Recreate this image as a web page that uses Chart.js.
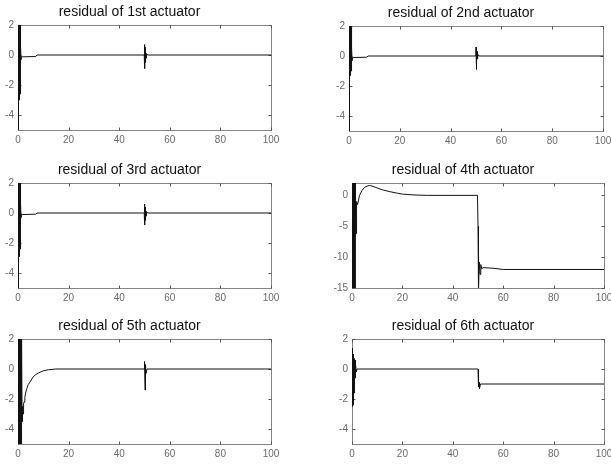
<!DOCTYPE html>
<html><head><meta charset="utf-8">
<script src="https://cdn.jsdelivr.net/npm/chart.js@4"></script>
<style>
html,body{margin:0;padding:0;background:#fff;width:611px;height:464px;overflow:hidden;position:relative}
.c{position:absolute}
</style></head><body>
<script>
// ---- data ----
const titles = ["residual of 1st actuator","residual of 2nd actuator","residual of 3rd actuator","residual of 4th actuator","residual of 5th actuator","residual of 6th actuator"];
const xTicks = [0,20,40,60,80,100];
const yTicksSmall = [-4,-2,0,2];
const yTicksLarge = [-15,-10,-5,0];

const t1 = [0,0.04,0.08,0.12,0.16,0.2,0.24,0.28,0.32,0.36,0.4,0.44,0.48,0.52,0.56,0.6,0.64,0.68,0.72,0.76,0.8,0.84,0.88,0.92,0.96,1.0,1.04,1.08,1.12,1.16,1.2,1.3,1.6,2,7,7.5,49.9,50,50.1,50.2,50.3,50.4,50.6,50.8,51.2,100];
const r1 = [0,3,-6,3,-6,3,-5.5,3,-4,3,-3,2.8,-2.8,2.6,-2.8,2.5,-2.7,2.4,-2.7,2.3,-2.6,2.2,-2.4,2.1,-2.0,1.8,-1.5,1.2,-1.0,0.6,-0.3,-0.1,-0.12,-0.12,-0.1,0,0,0.7,-0.9,0.5,-0.5,0.3,-0.2,0.1,0,0];

const t2 = [0,0.04,0.08,0.12,0.16,0.2,0.24,0.28,0.32,0.36,0.4,0.44,0.48,0.52,0.56,0.6,0.64,0.68,0.72,0.76,0.8,0.84,0.88,0.92,0.96,1.0,1.04,1.08,1.12,1.16,1.2,1.3,1.6,2,7,7.5,49.9,50,50.1,50.2,50.3,50.4,50.6,50.8,51.2,100];
const r2 = [0,3,-6,3,-5,3,-3,3,-2.7,3,-1.3,2.8,-1.2,2.6,-1.2,2.5,-1.1,2.4,-1.1,2.3,-1.0,2.0,-0.9,1.8,-0.8,1.5,-0.7,1.0,-0.5,0.6,-0.3,-0.1,-0.1,-0.1,-0.08,0,0,0.6,-0.9,0.4,-0.5,0.3,-0.2,0.1,0,0];

const t3 = [0,0.04,0.08,0.12,0.16,0.2,0.24,0.28,0.32,0.36,0.4,0.44,0.48,0.52,0.56,0.6,0.64,0.68,0.72,0.76,0.8,0.84,0.88,0.92,0.96,1.0,1.04,1.08,1.12,1.16,1.2,1.3,1.6,2,7,7.5,49.9,50,50.1,50.2,50.3,50.4,50.6,50.8,51.2,100];
const r3 = [0,3,-6,3,-6,3,-5,3,-4,3,-2.9,2.8,-2.8,2.6,-2.7,2.5,-2.6,2.4,-2.6,2.3,-2.4,2.1,-2.2,2.0,-1.8,1.6,-1.4,1.1,-0.9,0.6,-0.3,-0.1,-0.1,-0.1,-0.08,0,0,0.6,-0.8,0.4,-0.5,0.3,-0.2,0.1,0,0];

const t4 = [0,0.1,0.2,0.3,0.4,0.5,0.6,0.7,0.8,0.9,1.0,1.1,1.2,1.3,1.4,1.6,1.8,2.2,3,4,5,6,7,8,10,12,15,18,20,25,30,49.8,50,50.2,50.5,50.8,51.1,51.5,52,56,60,100];
const r4 = [0,3,-16,3,-16,3,-16,3,-16,3,-16,3,-16,2,-1,-6.2,-1,-1.5,0,0.8,1.3,1.5,1.6,1.5,1.2,0.9,0.6,0.35,0.2,0.05,0,0,-5,-15.5,-10.8,-12.8,-11.2,-11.9,-11.7,-11.8,-12,-12];

const t5 = [0,0.1,0.2,0.3,0.4,0.5,0.6,0.7,0.8,0.9,1.0,1.1,1.2,1.3,1.4,1.5,1.6,1.7,1.8,1.9,2.0,2.2,2.4,2.7,3,3.5,4,5,6,7,8,10,12,15,49.9,50,50.2,50.4,50.6,51,100];
const r5 = [0,2.5,-5.5,2.5,-5.5,2.5,-5.5,2.5,-5.5,2.5,-5.5,2.5,-5.5,2.5,-5.5,2.4,-3.5,-2.5,-3.3,-2.6,-3.0,-2.3,-2.2,-1.9,-1.6,-1.3,-1.05,-0.8,-0.52,-0.38,-0.27,-0.12,-0.05,0,0,0.5,-1.4,0.3,-0.3,0,0];

const t6 = [0,0.1,0.2,0.3,0.4,0.5,0.6,0.7,0.8,0.9,1.0,1.1,1.2,1.3,1.4,1.5,1.7,2,49.9,50,50.2,50.4,50.6,51,100];
const r6 = [0,1.4,-2.5,1.2,-2.4,1.0,-2.1,0.8,-1.6,0.7,-1.0,0.7,-0.6,0.6,-0.4,0.3,-0.2,0,0,0,-1.2,-0.9,-1.3,-1.0,-1.0];

// ---- layout (plot-area boxes in page pixels) ----
const frames = [
  {L:18,T:25,R:271,B:130},{L:349,T:26,R:603,B:131},
  {L:18,T:183,R:271,B:288},{L:352,T:183,R:604,B:288},
  {L:18,T:339,R:271,B:444},{L:352,T:339,R:604,B:444}
];

const framePlugin = {
  id:'frame',
  beforeDatasetsDraw(chart){
    const {ctx, chartArea:a, scales:{x,y}} = chart;
    ctx.save();
    ctx.strokeStyle = '#858585'; ctx.lineWidth = 1;
    const l = Math.round(a.left)+0.5, t = Math.round(a.top)+0.5, r = Math.round(a.right)+0.5, b = Math.round(a.bottom)+0.5;
    ctx.strokeRect(l, t, r-l, b-t);
    ctx.beginPath();
    x.ticks.forEach(tk=>{const px=Math.round(x.getPixelForValue(tk.value))+0.5; ctx.moveTo(px,t); ctx.lineTo(px,t+3); ctx.moveTo(px,b); ctx.lineTo(px,b-3);});
    y.ticks.forEach(tk=>{const py=Math.round(y.getPixelForValue(tk.value))+0.5; ctx.moveTo(l,py); ctx.lineTo(l+3,py); ctx.moveTo(r,py); ctx.lineTo(r-3,py);});
    ctx.strokeStyle = '#555';
    ctx.stroke();
    ctx.restore();
  }
};

const tickFont = {family:"'Liberation Sans Narrow','Liberation Sans',Arial,sans-serif", size:10};

function makeChart(i, xs, ys, yMin, yMax, yT){
  const f = frames[i];
  const side = 30, topSpace = 25, bottomSpace = 20;
  const w = (f.R - f.L) + 2*side, h = (f.B - f.T) + topSpace + bottomSpace;
  const div = document.createElement('div'); div.className = 'c';
  div.style.left = (f.L - side)+'px'; div.style.top = (f.T - topSpace)+'px';
  div.style.width = w+'px'; div.style.height = h+'px';
  const canvas = document.createElement('canvas');
  canvas.width = w; canvas.height = h;
  canvas.style.width = w+'px'; canvas.style.height = h+'px';
  div.appendChild(canvas); document.body.appendChild(div);
  new Chart(canvas, {
    type:'line',
    data:{datasets:[{data: xs.map((x,k)=>({x:x, y:ys[k]})), borderColor:'#111', borderWidth:1, pointRadius:0, tension:0, fill:false}]},
    options:{
      responsive:false, animation:false, maintainAspectRatio:false, devicePixelRatio:1,
      layout:{padding:{left:0,right:side,top:0,bottom:0}},
      plugins:{
        legend:{display:false}, tooltip:{enabled:false},
        title:{display:true, text:titles[i], color:'#111', font:{family:"'Liberation Sans',Arial,sans-serif", size:14, weight:'normal', lineHeight:1.2}, padding:{top:4, bottom: topSpace - 4 - 14*1.2}}
      },
      scales:{
        x:{type:'linear', min:0, max:100, grid:{display:false, drawTicks:false}, border:{display:false},
           ticks:{color:'#6a6a6a', font:tickFont, padding:4, maxRotation:0, autoSkip:false},
           afterBuildTicks: s=>{ s.ticks = xTicks.map(v=>({value:v})); },
           afterFit: s=>{ s.height = bottomSpace; }},
        y:{type:'linear', min:yMin, max:yMax, grid:{display:false, drawTicks:false}, border:{display:false},
           ticks:{color:'#6a6a6a', font:tickFont, padding:4, autoSkip:false},
           afterBuildTicks: s=>{ s.ticks = yT.map(v=>({value:v})); },
           afterFit: s=>{ s.width = side; }}
      }
    },
    plugins:[framePlugin]
  });
}

makeChart(0, t1, r1, -5, 2, yTicksSmall);
makeChart(1, t2, r2, -5, 2, yTicksSmall);
makeChart(2, t3, r3, -5, 2, yTicksSmall);
makeChart(3, t4, r4, -15, 2, yTicksLarge);
makeChart(4, t5, r5, -5, 2, yTicksSmall);
makeChart(5, t6, r6, -5, 2, yTicksSmall);
</script>
</body></html>
